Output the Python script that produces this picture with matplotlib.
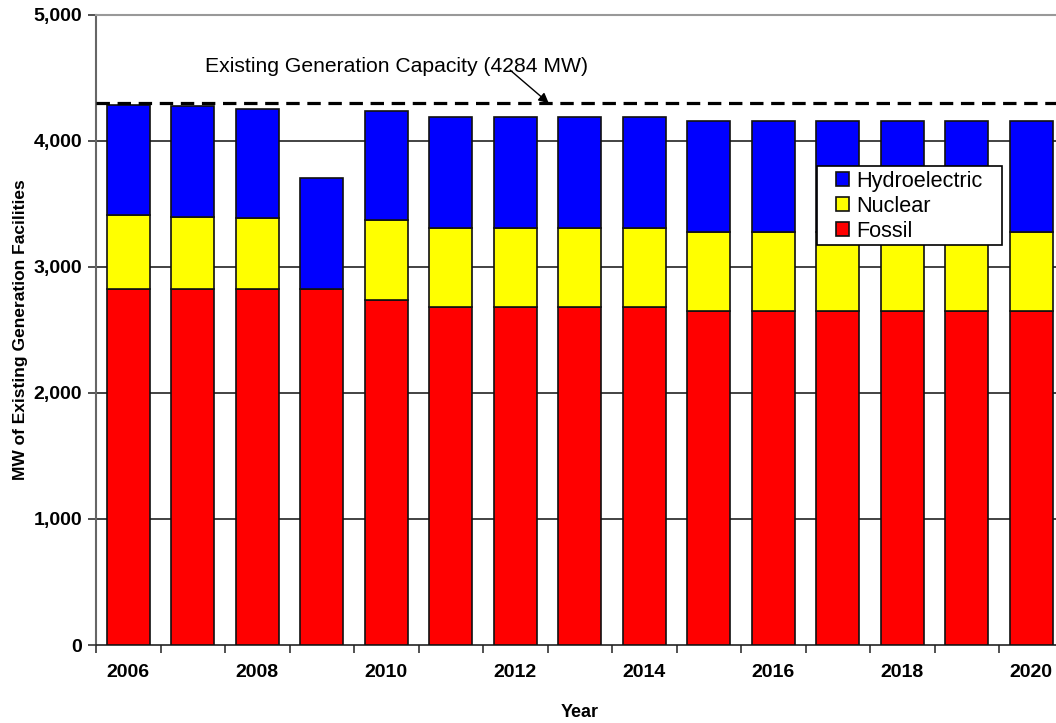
import matplotlib.pyplot as plt
import matplotlib.patches as mpatches
import numpy as np

plt.rcParams['font.family'] = ['Liberation Sans', 'DejaVu Sans']

years = list(range(2006, 2021))
fossil = [2828, 2828, 2828, 2828, 2738, 2680, 2680, 2680, 2680, 2648, 2648, 2648, 2648, 2648, 2648]
nuclear = [582, 571, 561, 0, 635, 627, 627, 627, 627, 627, 627, 627, 627, 627, 627]
hydro = [876, 876, 867, 878, 865, 881, 881, 881, 881, 884, 884, 884, 884, 884, 884]
capacity = 4300
capacity_label = 'Existing Generation Capacity (4284 MW)'
yticks = [0, 1000, 2000, 3000, 4000, 5000]

fig = plt.figure(figsize=(10.56, 7.23), dpi=100)
# axes runs slightly past the right edge like the original
ax = fig.add_axes([96/1056, 78/723, 967.5/1056, 630/723])

x = np.arange(len(years))
fossil = np.array(fossil)
nuclear = np.array(nuclear)
hydro = np.array(hydro)
w = 0.66
kw = dict(width=w, edgecolor='#111111', linewidth=1.2, zorder=3)
b1 = ax.bar(x, fossil, color='#FF0000', label='Fossil', **kw)
b2 = ax.bar(x, nuclear, bottom=fossil, color='#FFFF00', label='Nuclear', **kw)
b3 = ax.bar(x, hydro, bottom=fossil + nuclear, color='#0000FF', label='Hydroelectric', **kw)

# gridlines (top one is the grey frame)
for v in yticks[1:-1]:
    ax.axhline(v, color='#222222', linewidth=1.2, zorder=1)

ax.axhline(capacity, color='black', linewidth=2.3, dashes=(4.2, 2.4), zorder=4)
ax.text(4.16, 4590, capacity_label, fontsize=15.2, ha='center', va='center')
ax.annotate('', xy=(6.52, capacity), xytext=(5.92, 4563),
            arrowprops=dict(arrowstyle='-|>', color='black', lw=1, mutation_scale=15,
                            shrinkA=0, shrinkB=0))

ax.set_xlim(-0.5, len(years) - 0.5)
ax.set_ylim(0, 5000)
ax.set_yticks(yticks)
ax.set_yticklabels([f'{v:,}' for v in yticks], fontweight='bold')
ax.set_xticks(np.arange(-0.5, len(years), 1))
ax.set_xticklabels([])
ax.set_xticks(x[::2], minor=True)
ax.set_xticklabels([str(y) for y in years[::2]], minor=True, fontweight='bold')
ax.tick_params(axis='x', which='major', length=6, width=1.2, color='#333333')
ax.tick_params(axis='x', which='minor', length=0, pad=14, labelsize=14)
ax.tick_params(axis='y', length=6, width=1.2, color='#333333', labelsize=14, pad=4)

ax.spines['right'].set_visible(False)
ax.spines['top'].set_color('#999999')
ax.spines['top'].set_linewidth(1.5)
ax.spines['left'].set_color('#666666')
ax.spines['left'].set_linewidth(1.5)
ax.spines['bottom'].set_color('#222222')
ax.spines['bottom'].set_linewidth(1.2)

ax.set_xlabel('Year', fontsize=13, fontweight='bold', labelpad=16)
ax.set_ylabel('MW of Existing Generation Facilities', fontsize=12.5, fontweight='bold')
ax.yaxis.set_label_coords((28 - 96) / 967.5, 0.5)

# legend box drawn by hand, entries placed inside it
box = mpatches.Rectangle((817/1056, 1 - 245/723), 185/1056, 79/723, transform=fig.transFigure,
                         facecolor='white', edgecolor='black', linewidth=1.2, zorder=5)
fig.add_artist(box)
leg = ax.legend(handles=[b3, b2, b1], loc='upper left',
                bbox_to_anchor=(836/1056, 1 - 171/723), bbox_transform=fig.transFigure,
                borderaxespad=0, borderpad=0, frameon=False,
                handlelength=0.62, handleheight=0.62, handletextpad=0.32,
                labelspacing=0.18, prop={'size': 15.6})
leg.set_zorder(6)
fig.add_artist(leg)

fig.savefig('out.png', dpi=100)
